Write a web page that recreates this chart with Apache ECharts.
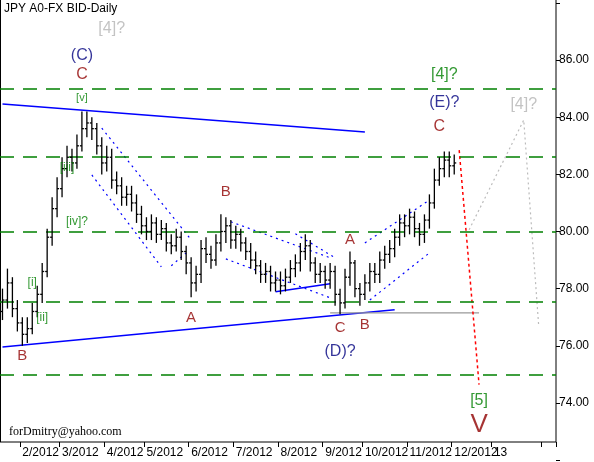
<!DOCTYPE html>
<html><head><meta charset="utf-8">
<script src="https://cdn.jsdelivr.net/npm/echarts@6/dist/echarts.min.js"></script>
<style>html,body{margin:0;padding:0;background:#fff}#c{width:594px;height:462px}</style>
</head><body><div id="c"></div>
<script>
var opens=[77.2,77.6,78.2,77.3,76.8,76.4,76.6,77.2,77.8,78.6,79.8,80.8,81.5,82.2,82.6,82.4,83.0,83.6,83.8,83.6,83.0,82.4,82.6,81.8,81.6,81.2,81.3,81.0,80.6,80.2,80.0,80.3,79.9,80.1,79.6,79.5,79.8,79.3,78.9,78.2,78.5,79.4,79.2,79.0,79.6,80.0,80.2,79.7,79.9,79.6,79.3,79.0,78.8,78.5,78.6,78.2,78.3,78.1,78.4,78.7,78.9,79.3,79.5,78.9,78.5,78.6,78.3,78.6,77.8,77.5,78.4,78.9,78.0,77.8,78.2,78.6,78.5,79.0,79.2,79.4,79.8,80.3,80.2,80.5,80.1,79.9,80.4,81.0,81.8,82.2,82.5,82.3];
var highs=[78.0,78.7,78.4,77.6,77.0,77.0,77.5,78.1,78.9,80.1,81.2,81.9,82.6,83.0,82.9,83.4,84.2,84.2,84.0,83.8,83.3,83.0,82.9,82.1,81.9,81.6,81.6,81.3,80.9,80.5,80.6,80.5,80.4,80.3,79.9,80.1,80.0,79.5,79.1,78.8,79.7,79.8,79.5,79.9,80.6,80.5,80.4,80.2,80.1,79.8,79.6,79.3,79.0,78.9,78.8,78.6,78.6,78.7,79.0,79.2,79.6,79.9,79.7,79.1,78.9,78.8,78.9,78.8,78.0,78.7,79.3,79.0,78.2,78.5,78.9,78.9,79.3,79.5,79.7,80.1,80.6,80.6,80.8,80.7,80.3,80.6,81.3,82.2,82.6,82.8,82.8,82.7];
var lows=[76.9,77.3,77.0,76.5,76.0,76.1,76.4,77.0,77.5,78.4,79.5,80.5,81.2,81.9,82.1,82.2,82.8,83.3,83.2,82.7,82.0,82.1,81.5,81.3,80.9,80.9,80.7,80.3,79.9,79.7,79.7,79.6,79.7,79.3,79.2,79.3,79.0,78.5,77.7,77.9,78.2,78.9,78.7,78.8,79.3,79.6,79.4,79.4,79.3,79.0,78.7,78.5,78.2,78.2,77.9,77.9,77.8,77.9,78.2,78.4,78.6,79.0,78.6,78.2,78.2,78.0,78.0,77.4,77.1,77.3,78.1,77.7,77.4,77.6,77.9,78.2,78.2,78.7,78.9,79.1,79.5,79.8,79.9,79.8,79.5,79.6,80.1,80.8,81.6,81.9,81.9,82.0];
var closes=[77.6,78.2,77.3,76.8,76.4,76.6,77.2,77.8,78.6,79.8,80.8,81.5,82.2,82.6,82.4,83.0,83.6,83.8,83.6,83.0,82.4,82.6,81.8,81.6,81.2,81.3,81.0,80.6,80.2,80.0,80.3,79.9,80.1,79.6,79.5,79.8,79.3,78.9,78.2,78.5,79.4,79.2,79.0,79.6,80.0,80.2,79.7,79.9,79.6,79.3,79.0,78.8,78.5,78.6,78.2,78.3,78.1,78.4,78.7,78.9,79.3,79.5,78.9,78.5,78.6,78.3,78.6,77.8,77.5,78.4,78.9,78.0,77.8,78.2,78.6,78.5,79.0,79.2,79.4,79.8,80.3,80.2,80.5,80.1,79.9,80.4,81.0,81.8,82.2,82.5,82.3,82.4];
var nCats=112;
var monthTickIdx=[4,12,21,29,38,47,56,65,73,82,91,99,109];
var monthLabels=['2/2012','3/2012','4/2012','5/2012','6/2012','7/2012','8/2012','9/2012','10/2012','11/2012','12/2012','13',''];
var yTicks=[74,76,78,80,82,84,86];
var levels=[85,82.6,80,77.55,75];
var solidLines=[[[0,84.46],[73.1,83.48]],[[0,75.96],[78.5,77.26]],[[55.1,77.89],[65.5,78.17]]];
var dashedLines=[[[19.5,83.62],[37.5,79.71]],[[17.5,81.98],[32.1,78.76]],[[33.5,78.8],[36.9,79.25]],[[45.5,80.34],[66.1,79.08]],[[44.5,79.04],[65.9,77.68]],[[59.1,79.92],[66.5,79.08]],[[73.1,79.6],[85.5,81.1]],[[73.9,77.6],[86.1,79.25]]];
var grayLine=[[65.9,77.15],[95.9,77.15]];
var redPath=[[91.5,82.85],[96.1,74.64]];
var grayPath=[[93.9,80.06],[104.5,83.9],[107.5,76.73]];
var labels=[
 [21.5,87.12,'[4]?','#b4b4b4',16],[15.9,86.17,'(C)','#000080',16],[16.3,85.48,'C','#900000',16],
 [15.9,84.67,'[v]','#008000',11],[12.7,82.22,'[iii]','#008000',12],[15.1,80.34,'[iv]?','#008000',12],
 [5.9,78.2,'[i]','#008000',12],[7.9,76.98,'[ii]','#008000',12],[3.9,75.65,'B','#900000',15],
 [37.7,76.98,'A','#900000',15],[44.7,81.38,'B','#900000',15],[69.9,79.7,'A','#900000',15],
 [67.9,76.63,'C','#900000',15],[72.7,76.73,'B','#900000',15],[67.7,75.79,'(D)?','#000080',16],
 [88.9,85.51,'[4]?','#008000',16],[88.9,84.53,'(E)?','#000080',16],[88.1,83.66,'C','#900000',16],
 [104.9,84.43,'[4]?','#b4b4b4',16],[95.7,74.08,'[5]','#008000',16],[95.7,73.24,'V','#900000',26]
];
var cats=[];for(var i=0;i<nCats;i++)cats.push(i);
var ohlc=closes.map(function(c,i){return [i,opens[i],highs[i],lows[i],c];});
function lineSeries(pts,color,type,w){return {type:'line',data:pts,symbol:'none',silent:true,lineStyle:{color:color,type:type,width:w},z:3};}
var series=[{
 type:'custom',data:ohlc,z:5,
 renderItem:function(p,api){
  var x=api.value(0),o=api.coord([x,api.value(1)]),h=api.coord([x,api.value(2)]),l=api.coord([x,api.value(3)]),c=api.coord([x,api.value(4)]);
  var st={stroke:'#000',lineWidth:1.3};
  return {type:'group',children:[
   {type:'line',shape:{x1:h[0],y1:h[1],x2:l[0],y2:l[1]},style:st},
   {type:'line',shape:{x1:o[0]-2,y1:o[1],x2:o[0],y2:o[1]},style:st},
   {type:'line',shape:{x1:c[0],y1:c[1],x2:c[0]+2,y2:c[1]},style:st}]};
 },
 markLine:{silent:true,symbol:'none',label:{show:false},lineStyle:{color:'#008000',type:[14,9],width:1.5},data:levels.map(function(v){return {yAxis:v};})}
}];
solidLines.forEach(function(s){series.push(lineSeries(s,'#0000ff','solid',1.5));});
dashedLines.forEach(function(s){series.push(lineSeries(s,'#0000ff',[2,4],1.2));});
series.push(lineSeries(grayLine,'#999999','solid',1.2));
series.push(lineSeries(redPath,'#ff0000',[3,3],1.5));
series.push(lineSeries(grayPath,'#bbbbbb',[2,3],1.2));
series.push({type:'scatter',symbolSize:0,silent:true,z:10,labelLayout:{hideOverlap:false},data:labels.map(function(l){return {value:[l[0],l[1]],label:{show:true,position:'inside',formatter:l[2],color:l[3],fontSize:l[4],fontFamily:'Liberation Sans'}};})});
var chart=echarts.init(document.getElementById('c'));
chart.setOption({
 animation:false,backgroundColor:'#fff',
 grid:{left:0,right:38,top:3,bottom:2},
 xAxis:{type:'category',data:cats,boundaryGap:true,offset:-18,
  axisLine:{show:false},
  axisTick:{show:true,length:5,lineStyle:{color:'#000'},interval:function(i){return monthTickIdx.indexOf(i)>=0;}},
  axisLabel:{interval:function(i){return monthTickIdx.indexOf(i)>=0;},formatter:function(v,i){var k=monthTickIdx.indexOf(i);return k>=0?monthLabels[k]:'';},align:'left',margin:5,color:'#000',fontSize:12,fontFamily:'Liberation Sans'}},
 yAxis:{type:'value',position:'right',min:72,max:88,interval:2,splitLine:{show:false},axisLine:{show:false},
  axisTick:{show:true,length:4,lineStyle:{color:'#000'}},
  axisLabel:{formatter:function(v){return yTicks.indexOf(v)>=0?v.toFixed(2):'';},color:'#000',fontSize:12,fontFamily:'Liberation Sans',margin:3}},
 graphic:[
  {type:'line',shape:{x1:556,y1:0,x2:556,y2:442},style:{stroke:'#000',lineWidth:1}},
  {type:'line',shape:{x1:0,y1:442,x2:556,y2:442},style:{stroke:'#000',lineWidth:1}},
  {type:'line',shape:{x1:0.5,y1:0,x2:0.5,y2:442},style:{stroke:'#000',lineWidth:1}},
  {type:'text',left:4,top:3,style:{text:'JPY A0-FX BID-Daily',fill:'#000',font:'12px "Liberation Sans"'}},
  {type:'text',left:9,top:426,style:{text:'forDmitry@yahoo.com',fill:'#000',font:'12px "Liberation Serif"'}}
 ],
 series:series
});
</script></body></html>
